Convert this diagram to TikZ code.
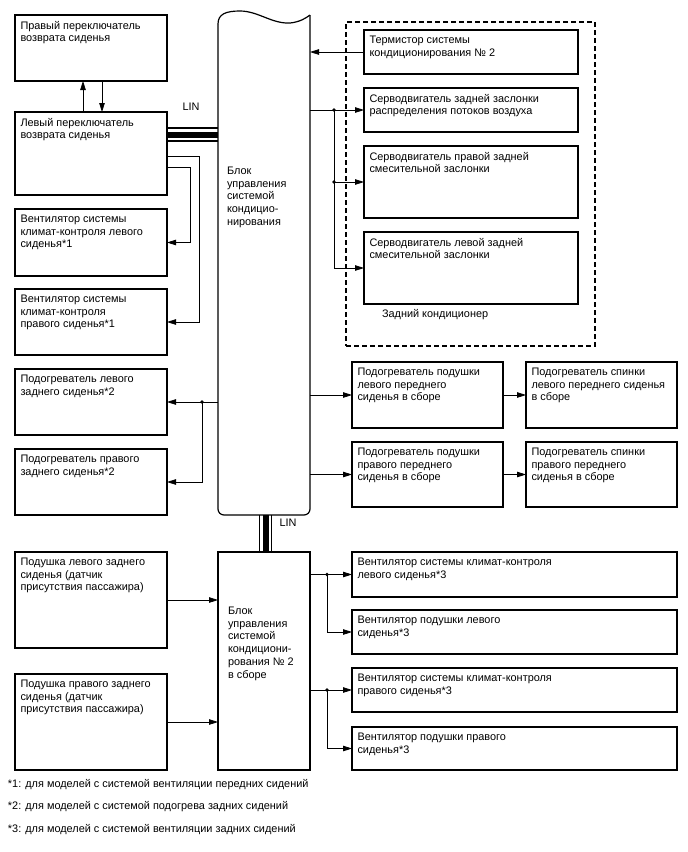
\documentclass[tikz,border=0pt]{standalone}
\usepackage{fontspec}
\setmainfont{Liberation Sans}
\usetikzlibrary{arrows.meta,calc}
\newcommand\fsz{\fontsize{10.9pt}{12.7pt}\selectfont}
\tikzset{
  boxst/.style={draw, line width=1.2pt, inner sep=0pt, outer sep=0pt, anchor=north west},
  txt/.style={inner sep=0pt, outer sep=0pt, anchor=north west, align=left, font=\fsz},
  lbl/.style={inner sep=0pt, outer sep=0pt, font=\fsz},
  conn/.style={line width=0.8pt},
  arr/.style={conn, -{Triangle[length=9pt,width=5.5pt]}},
  jdot/.style={circle, fill, inner sep=0pt, minimum size=3.8pt},
  busthin/.style={line width=1.2pt},
  busthick/.style={line width=6pt}
}
\newcommand\bx[6]{%
  \node[boxst, minimum width={(#4-#2)*1pt}, minimum height={(#5-#3)*1pt}] (#1) at (#2,#3) {};
  \node[txt] (#1t) at ($(#1.north west)+(5.5,6)$) {#6};}
\begin{document}
\begin{tikzpicture}[x=1pt,y=-1pt]
\fill[white] (0,0) rectangle (688,852);
\useasboundingbox (0,0) rectangle (688,852);

% left column
\bx{rsw}{15}{15}{167}{81}{Правый переключатель\\возврата сиденья}
\bx{lsw}{15}{112}{167}{195}{Левый переключатель\\возврата сиденья}
\bx{fanL}{15}{209}{167}{276}{Вентилятор системы\\климат-контроля левого\\сиденья*1}
\bx{fanR}{15}{289}{167}{355}{Вентилятор системы\\климат-контроля\\правого сиденья*1}
\bx{htL}{15}{369}{167}{435}{Подогреватель левого\\заднего сиденья*2}
\bx{htR}{15}{449}{167}{515}{Подогреватель правого\\заднего сиденья*2}
\bx{cushL}{15}{552}{167}{648}{Подушка левого заднего\\сиденья (датчик\\присутствия пассажира)}
\bx{cushR}{15}{674}{167}{770}{Подушка правого заднего\\сиденья (датчик\\присутствия пассажира)}

% central block 1
\node[inner sep=0pt, outer sep=0pt, minimum width=92pt, minimum height=500pt, anchor=north west] (cb) at (218,15) {};
\draw[line width=1.2pt, rounded corners=6pt] (cb.north east) -- (cb.south east) -- (cb.south west) -- ($(cb.north west)+(0,9)$);
\draw[line width=1.2pt] ($(cb.north west)+(0,9)$) .. controls (218,14) and (226,11) .. (240,11)
  .. controls (258,11) and (272,24) .. (290,23) .. controls (300,22) and (306,18) .. (cb.north east);
\node[txt] (cbt) at (227,167) {Блок\\управления\\системой\\кондицио-\\нирования};

% central block 2
\node[boxst, minimum width=92pt, minimum height=218pt] (cb2) at (218,552) {};
\node[txt] (cb2t) at (228,607) {Блок\\управления\\системой\\кондициони-\\рования № 2\\в сборе};

% rear air conditioner group
\node[boxst, line width=1.3pt, dashed, dash pattern=on 5pt off 3pt, minimum width=249pt, minimum height=324pt] (rear) at (346,22) {};
\bx{therm}{364}{30}{578}{74}{Термистор системы\\кондиционирования № 2}
\bx{sv1}{364}{88}{578}{132}{Серводвигатель задней заслонки\\распределения потоков воздуха}
\bx{sv2}{364}{146}{578}{218}{Серводвигатель правой задней\\смесительной заслонки}
\bx{sv3}{364}{232}{578}{304}{Серводвигатель левой задней\\смесительной заслонки}
\node[lbl, anchor=west] (reartxt) at (382,315) {Задний кондиционер};

% front seat heaters
\bx{hcL}{352}{362}{503}{428}{Подогреватель подушки\\левого переднего\\сиденья в сборе}
\bx{hbL}{526}{362}{677}{428}{Подогреватель спинки\\левого переднего сиденья\\в сборе}
\bx{hcR}{352}{442}{503}{507}{Подогреватель подушки\\правого переднего\\сиденья в сборе}
\bx{hbR}{526}{442}{677}{507}{Подогреватель спинки\\правого переднего\\сиденья в сборе}

% rear seat fans
\bx{rf1}{352}{552}{677}{597}{Вентилятор системы климат-контроля\\левого сиденья*3}
\bx{rf2}{352}{610}{677}{654}{Вентилятор подушки левого\\сиденья*3}
\bx{rf3}{352}{668}{677}{712}{Вентилятор системы климат-контроля\\правого сиденья*3}
\bx{rf4}{352}{727}{677}{770}{Вентилятор подушки правого\\сиденья*3}

% switches
\draw[arr] ($(lsw.north west)+(68,0)$) -- ($(rsw.south west)+(68,0)$);
\draw[arr] ($(rsw.south west)+(87,0)$) -- ($(lsw.north west)+(87,0)$);

% LIN bus horizontal
\coordinate (busR) at (cb.west |- lsw.north east);
\draw[busthin] ($(lsw.north east)+(0,16)$) -- ($(busR)+(0,16)$);
\draw[busthick] ($(lsw.north east)+(0,22.5)$) -- ($(busR)+(0,22.5)$);
\draw[busthin] ($(lsw.north east)+(0,29)$) -- ($(busR)+(0,29)$);
\node[lbl] (lin1) at (191,107) {LIN};

% LIN bus vertical
\draw[busthin] ($(cb.south)+(-4.5,0)$) -- ($(cb2.north)+(-4.5,0)$);
\draw[busthick] ($(cb.south)+(1.5,0)$) -- ($(cb2.north)+(1.5,0)$);
\draw[busthin] ($(cb.south)+(7.5,0)$) -- ($(cb2.north)+(7.5,0)$);
\node[lbl] (lin2) at (288,523) {LIN};

% switch to fans
\draw[arr] ($(lsw.north east)+(0,55)$) -- ++(23,0) |- (fanL.east);
\draw[arr] ($(lsw.north east)+(0,44)$) -- ++(32,0) |- (fanR.east);

% block to rear seat heaters
\coordinate (jh) at ($(htL.east)+(35,0)$);
\draw[arr] (cb.west |- htL.east) -- (htL.east);
\draw[arr] (jh) |- (htR.east);
\node[jdot] at (jh) {};

% thermistor
\draw[arr] (therm.west) -- (cb.east |- therm.west);

% servos
\coordinate (js) at ($(cb.east |- sv1.west)+(24,0)$);
\draw[arr] (cb.east |- sv1.west) -- (sv1.west);
\draw[arr] (js) |- (sv2.west);
\draw[arr] (js) |- (sv3.west);
\node[jdot] at (js) {};
\node[jdot] at (js |- sv2.west) {};

% front heaters
\draw[arr] (cb.east |- hcL.west) -- (hcL.west);
\draw[arr] (hcL.east) -- (hbL.west);
\draw[arr] (cb.east |- hcR.west) -- (hcR.west);
\draw[arr] (hcR.east) -- (hbR.west);

% cushions to block 2
\draw[arr] (cushL.east) -- (cb2.west |- cushL.east);
\draw[arr] (cushR.east) -- (cb2.west |- cushR.east);

% block 2 to rear fans
\coordinate (jf1) at ($(cb2.east |- rf1.west)+(17,0)$);
\draw[arr] (cb2.east |- rf1.west) -- (rf1.west);
\draw[arr] (jf1) |- (rf2.west);
\node[jdot] at (jf1) {};
\coordinate (jf2) at ($(cb2.east |- rf3.west)+(17,0)$);
\draw[arr] (cb2.east |- rf3.west) -- (rf3.west);
\draw[arr] (jf2) |- (rf4.west);
\node[jdot] at (jf2) {};

% footnotes
\node[lbl, anchor=west] (fn1) at (8,785) {*1: для моделей с системой вентиляции передних сидений};
\node[lbl, anchor=west] (fn2) at (8,807) {*2: для моделей с системой подогрева задних сидений};
\node[lbl, anchor=west] (fn3) at (8,830) {*3: для моделей с системой вентиляции задних сидений};
\end{tikzpicture}
\end{document}
